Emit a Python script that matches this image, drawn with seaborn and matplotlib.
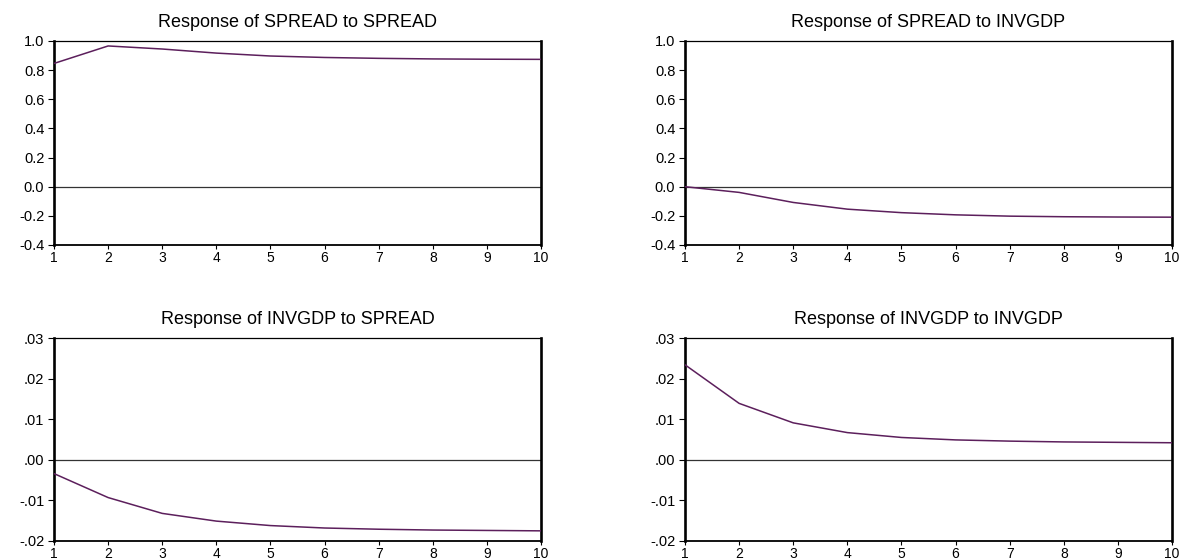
import matplotlib
matplotlib.use("Agg")
import matplotlib.pyplot as plt
import seaborn as sns
import pandas as pd
from matplotlib.ticker import FixedLocator, FuncFormatter

# ---- data ----
periods = [1, 2, 3, 4, 5, 6, 7, 8, 9, 10]
spread_to_spread = [0.846, 0.966, 0.945, 0.917, 0.897, 0.887, 0.881, 0.877, 0.875, 0.874]
spread_to_invgdp = [0.000, -0.039, -0.108, -0.154, -0.178, -0.193, -0.202, -0.206, -0.208, -0.209]
invgdp_to_spread = [-0.0034, -0.0093, -0.0132, -0.0151, -0.0162, -0.0168, -0.0171, -0.0173, -0.0174, -0.0175]
invgdp_to_invgdp = [0.0234, 0.0139, 0.0091, 0.0067, 0.0055, 0.0049, 0.0046, 0.0044, 0.0043, 0.0042]

titles = ["Response of SPREAD to SPREAD", "Response of SPREAD to INVGDP",
          "Response of INVGDP to SPREAD", "Response of INVGDP to INVGDP"]
top_yticks = [-0.4, -0.2, 0.0, 0.2, 0.4, 0.6, 0.8, 1.0]
bottom_yticks = [-0.02, -0.01, 0.00, 0.01, 0.02, 0.03]

sns.set_theme(style="white")
plt.rcParams['font.family'] = ['Liberation Sans', 'DejaVu Sans']

fig = plt.figure(figsize=(11.84, 5.6), dpi=100)
W, H = 1184, 560
boxes = [(54, 41, 541, 245), (685, 41, 1172, 245),
         (54, 338, 541, 541), (685, 338, 1172, 541)]
series = [spread_to_spread, spread_to_invgdp, invgdp_to_spread, invgdp_to_invgdp]
yticks_list = [top_yticks, top_yticks, bottom_yticks, bottom_yticks]
line_color = "#5c1f5c"

def top_fmt(v, pos):
    return f"{v:.1f}"

def bottom_fmt(v, pos):
    s = f"{v:.2f}"
    if s.startswith("-0"):
        s = "-" + s[2:]
    elif s.startswith("0"):
        s = s[1:]
    return s

for i, (box, vals, yt, title) in enumerate(zip(boxes, series, yticks_list, titles)):
    x0, y0, x1, y1 = box
    ax = fig.add_axes([x0 / W, 1 - y1 / H, (x1 - x0) / W, (y1 - y0) / H])
    df = pd.DataFrame({"period": periods, "response": vals})
    ax.axhline(0, color="#333333", lw=0.9, zorder=1)
    sns.lineplot(data=df, x="period", y="response", ax=ax, color=line_color,
                 lw=1.1, zorder=3)
    ax.set_xlim(1, 10)
    ax.set_ylim(yt[0], yt[-1])
    ax.xaxis.set_major_locator(FixedLocator(periods))
    ax.yaxis.set_major_locator(FixedLocator(yt))
    ax.yaxis.set_major_formatter(FuncFormatter(top_fmt if i < 2 else bottom_fmt))
    ax.set_xlabel("")
    ax.set_ylabel("")
    ax.set_title(title, fontsize=13, pad=10, color="black")
    ax.tick_params(axis="y", which="major", direction="out", length=4,
                   width=0.8, colors="black", labelsize=10.5, pad=3, left=True)
    ax.tick_params(axis="x", which="major", direction="out", length=3,
                   width=0.8, colors="black", labelsize=10, pad=1, bottom=True)
    for side, lw in [("left", 1.9), ("right", 1.9), ("bottom", 1.3), ("top", 0.9)]:
        ax.spines[side].set_visible(True)
        ax.spines[side].set_color("black")
        ax.spines[side].set_linewidth(lw)
    ax.grid(False)
    ax.set_facecolor("white")

fig.savefig("out.png", dpi=100, facecolor="white")
